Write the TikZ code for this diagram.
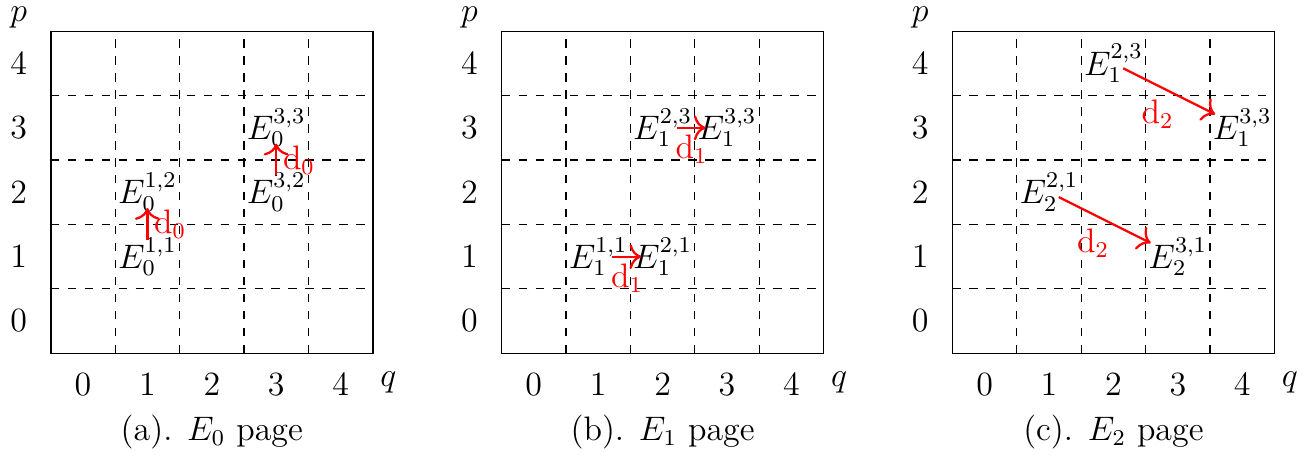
\documentclass[tikz,border=0pt,12pt]{standalone}
\usetikzlibrary{arrows.meta}
\tikzset{
  frame/.style={line width=0.5pt},
  gridline/.style={dashed, line width=0.4pt},
  axnum/.style={inner sep=0pt},
  term/.style={inner sep=0pt},
  dmap/.style={-{To[scale=1.25]}, red, thick},
  dlabel/.style={red},
}
\begin{document}
\begin{tikzpicture}[x=0.8cm,y=0.8cm]
\useasboundingbox (-1.289,-2.096) rectangle (19.146,4.985);
% ---------- panel (a)
\begin{scope}
\draw[frame] (-0.5,-0.5) rectangle (4.5,4.5);
\foreach \i in {0.5,1.5,2.5,3.5} {
  \draw[gridline] (\i,-0.5) -- (\i,4.5);
  \draw[gridline] (-0.5,\i) -- (4.5,\i);
}
\foreach \n in {0,...,4} {
  \node[axnum] (aq\n) at (\n,-0.99) {$\n$};
  \node[axnum] (ap\n) at (-1,\n) {$\n$};
}
\node[axnum] (ap) at (-1,4.72) {$p$};
\node[axnum] (aq) at (4.74,-0.96) {$q$};
\node (acap) at (2,-1.72) {(a). $E_0$ page};
\node[term] (a11) at (1,1) {$E_0^{1,1}$};
\node[term] (a12) at (1,2) {$E_0^{1,2}$};
\node[term] (a32) at (3,2) {$E_0^{3,2}$};
\node[term] (a33) at (3,3) {$E_0^{3,3}$};
\draw[dmap, shorten <=0.208cm, shorten >=0.196cm] (a11.center) -- node[right, dlabel, inner sep=2pt] {$\mathrm{d}_0$} (a12.center);
\draw[dmap, shorten <=0.208cm, shorten >=0.196cm] (a32.center) -- node[right, dlabel, inner sep=2pt] {$\mathrm{d}_0$} (a33.center);
\end{scope}
% ---------- panel (b)
\begin{scope}[shift={(7,0)}]
\draw[frame] (-0.5,-0.5) rectangle (4.5,4.5);
\foreach \i in {0.5,1.5,2.5,3.5} {
  \draw[gridline] (\i,-0.5) -- (\i,4.5);
  \draw[gridline] (-0.5,\i) -- (4.5,\i);
}
\foreach \n in {0,...,4} {
  \node[axnum] (bq\n) at (\n,-0.99) {$\n$};
  \node[axnum] (bp\n) at (-1,\n) {$\n$};
}
\node[axnum] (bp) at (-1,4.72) {$p$};
\node[axnum] (bq) at (4.74,-0.96) {$q$};
\node (bcap) at (2,-1.72) {(b). $E_1$ page};
\node[term] (b11) at (1,1) {$E_1^{1,1}$};
\node[term] (b21) at (2,1) {$E_1^{2,1}$};
\node[term] (b23) at (2,3) {$E_1^{2,3}$};
\node[term] (b33) at (3,3) {$E_1^{3,3}$};
\draw[dmap, shorten <=0.176cm, shorten >=0.264cm] (b11.center) -- node[pos=0.45, below, dlabel, inner sep=2pt] {$\mathrm{d}_1$} (b21.center);
\draw[dmap, shorten <=0.176cm, shorten >=0.264cm] (b23.center) -- node[pos=0.45, below, dlabel, inner sep=2pt] {$\mathrm{d}_1$} (b33.center);
\end{scope}
% ---------- panel (c)
\begin{scope}[shift={(14,0)}]
\draw[frame] (-0.5,-0.5) rectangle (4.5,4.5);
\foreach \i in {0.5,1.5,2.5,3.5} {
  \draw[gridline] (\i,-0.5) -- (\i,4.5);
  \draw[gridline] (-0.5,\i) -- (4.5,\i);
}
\foreach \n in {0,...,4} {
  \node[axnum] (cq\n) at (\n,-0.99) {$\n$};
  \node[axnum] (cp\n) at (-1,\n) {$\n$};
}
\node[axnum] (cp) at (-1,4.72) {$p$};
\node[axnum] (cq) at (4.74,-0.96) {$q$};
\node (ccap) at (2,-1.72) {(c). $E_2$ page};
\node[term] (c23) at (2,4) {$E_1^{2,3}$};
\node[term] (c33) at (4,3) {$E_1^{3,3}$};
\node[term] (c21) at (1,2) {$E_2^{2,1}$};
\node[term] (c31) at (3,1) {$E_2^{3,1}$};
\draw[dmap, shorten <=0.136cm, shorten >=0.376cm] (c23.center) -- node[dlabel, xshift=-0.252cm, yshift=-0.228cm] {$\mathrm{d}_2$} (c33.center);
\draw[dmap, shorten <=0.136cm, shorten >=0.376cm] (c21.center) -- node[dlabel, xshift=-0.252cm, yshift=-0.228cm] {$\mathrm{d}_2$} (c31.center);
\end{scope}
\end{tikzpicture}
\end{document}
